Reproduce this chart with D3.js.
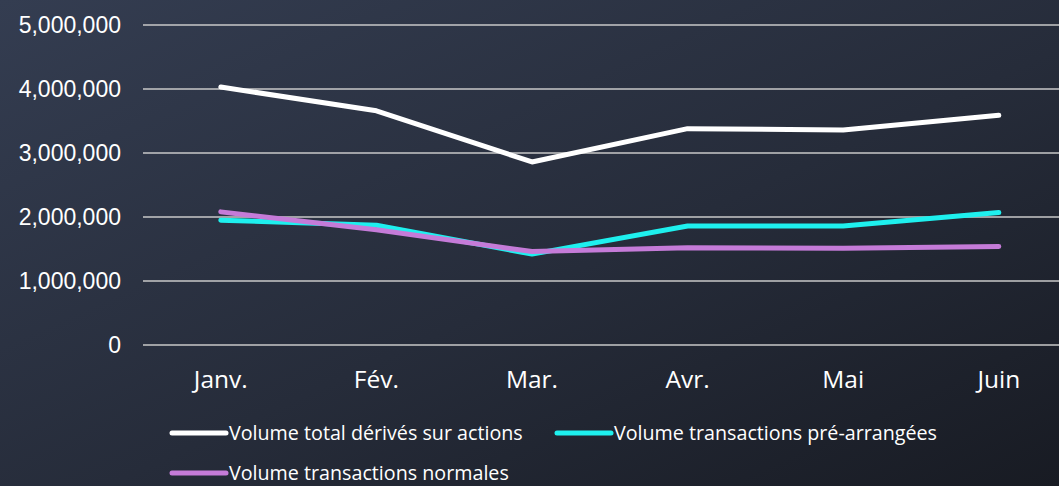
<!DOCTYPE html>
<html>
<head>
<meta charset="utf-8">
<script src="https://cdn.jsdelivr.net/npm/d3@7"></script>
<style>
  html, body { margin: 0; padding: 0; overflow: hidden; }
  svg { display: block; }
</style>
</head>
<body>
<svg width="1059" height="486"></svg>
<script>
const months = ["Janv.", "Fév.", "Mar.", "Avr.", "Mai", "Juin"];
const totalDerives = [4030000, 3660000, 2860000, 3380000, 3360000, 3590000];
const preArrangees = [1950000, 1870000, 1420000, 1860000, 1860000, 2070000];
const normales = [2080000, 1800000, 1460000, 1520000, 1510000, 1540000];
const yTicks = [0, 1000000, 2000000, 3000000, 4000000, 5000000];

const series = [
    { name: "Volume total dérivés sur actions", values: totalDerives, color: "#ffffff" },
    { name: "Volume transactions pré-arrangées", values: preArrangees, color: "#1ef0ee" },
    { name: "Volume transactions normales", values: normales, color: "#c57bd8" }
];

const W = 1059, H = 486;
const svg = d3.select("svg");

// background gradient
const defs = svg.append("defs");
const grad = defs.append("linearGradient")
    .attr("id", "bg")
    .attr("x1", "0%").attr("y1", "0%")
    .attr("x2", "100%").attr("y2", "100%");
grad.append("stop").attr("offset", "0%").attr("stop-color", "#343d51");
grad.append("stop").attr("offset", "55%").attr("stop-color", "#262c3a");
grad.append("stop").attr("offset", "100%").attr("stop-color", "#181b23");
svg.append("rect").attr("width", W).attr("height", H).attr("fill", "url(#bg)");

const plotLeft = 143;
const step = 155.6;
const x = d3.scalePoint()
    .domain(months)
    .range([plotLeft + step / 2, plotLeft + step / 2 + step * 5]);

const y = d3.scaleLinear()
    .domain([0, 5000000])
    .range([345, 25]);

// gridlines
svg.append("g")
    .selectAll("line")
    .data(yTicks)
    .enter()
    .append("line")
    .attr("x1", plotLeft)
    .attr("x2", W)
    .attr("y1", d => y(d))
    .attr("y2", d => y(d))
    .attr("stroke", "#c9c9c9")
    .attr("stroke-width", 1.5);

// y labels
svg.append("g")
    .selectAll("text")
    .data(yTicks)
    .enter()
    .append("text")
    .attr("x", 121)
    .attr("y", d => y(d))
    .attr("dy", "0.35em")
    .attr("text-anchor", "end")
    .attr("fill", "#ffffff")
    .style("font-family", "'Liberation Sans', Arial, sans-serif")
    .style("font-size", "23px")
    .text(d => d3.format(",")(d));

// x labels
svg.append("g")
    .selectAll("text")
    .data(months)
    .enter()
    .append("text")
    .attr("x", d => x(d))
    .attr("y", 388)
    .attr("text-anchor", "middle")
    .attr("fill", "#ffffff")
    .style("font-family", "'Open Sans', sans-serif")
    .style("font-size", "24.5px")
    .text(d => d);

// lines
const line = d3.line()
    .x((d, i) => x(months[i]))
    .y(d => y(d));

svg.append("g")
    .selectAll("path")
    .data(series)
    .enter()
    .append("path")
    .attr("d", d => line(d.values))
    .attr("fill", "none")
    .attr("stroke", d => d.color)
    .attr("stroke-width", 5)
    .attr("stroke-linejoin", "round")
    .attr("stroke-linecap", "round");

// legend (last row sits near the bottom edge, like the original)
const legendPos = [[170, 433], [555, 433], [170, 473]];
const legend = svg.append("g")
    .selectAll("g")
    .data(series)
    .enter()
    .append("g")
    .attr("transform", (d, i) => `translate(${legendPos[i][0]},${legendPos[i][1]})`);

legend.append("line")
    .attr("x1", 2).attr("x2", 56)
    .attr("stroke", d => d.color)
    .attr("stroke-width", 5)
    .attr("stroke-linecap", "round");

legend.append("text")
    .attr("x", 59)
    .attr("dy", "0.35em")
    .attr("fill", "#ffffff")
    .style("font-family", "'Open Sans', sans-serif")
    .style("font-size", "19.7px")
    .text(d => d.name);
</script>
</body>
</html>
